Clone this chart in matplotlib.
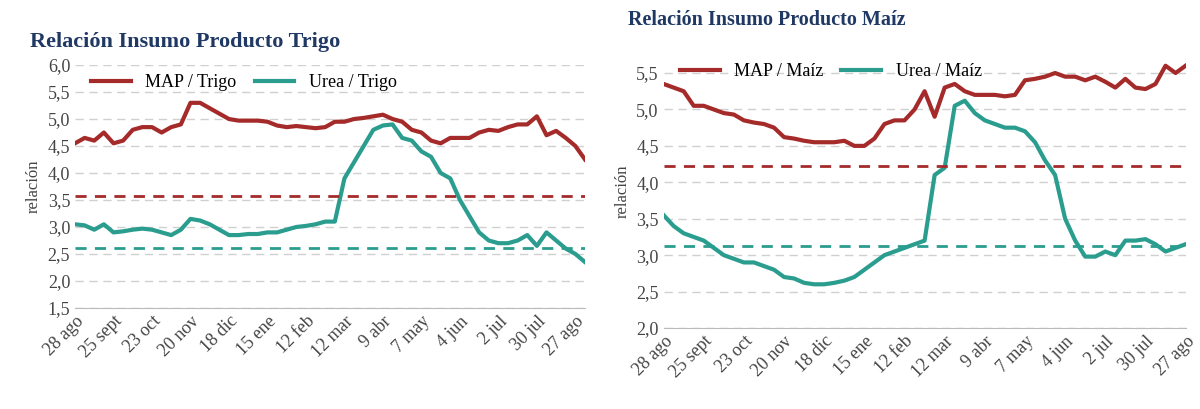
import matplotlib
matplotlib.use("Agg")
import matplotlib.pyplot as plt
from matplotlib.ticker import FuncFormatter
import numpy as np

ticks = ["28 ago","25 sept","23 oct","20 nov","18 dic","15 ene","12 feb","12 mar","9 abr","7 may","4 jun","2 jul","30 jul","27 ago"]

map_trigo = [4.55,4.65,4.6,4.75,4.55, 4.6,4.8,4.85,4.85, 4.75,4.85,4.9,5.3, 5.3,5.2,5.1,5.0,
             4.97,4.97,4.97,4.95, 4.88,4.85,4.87,4.85, 4.83,4.85,4.95,4.95, 5.0,5.02,5.05,5.08,
             5.0,4.95,4.8,4.75, 4.6,4.55,4.65,4.65, 4.65,4.75,4.8,4.78, 4.85,4.9,4.9,5.05,
             4.7,4.78,4.65,4.5,4.25]
urea_trigo = [3.05,3.03,2.95,3.05,2.9, 2.92,2.95,2.97,2.95, 2.9,2.85,2.95,3.15, 3.12,3.05,2.95,2.85,
              2.85,2.87,2.87,2.9, 2.9,2.95,3.0,3.02, 3.05,3.1,3.1,3.9, 4.2,4.5,4.8,4.88,
              4.9,4.65,4.6,4.4, 4.3,4.0,3.9,3.5, 3.2,2.9,2.75,2.7, 2.7,2.75,2.85,2.65,
              2.9,2.75,2.6,2.5,2.35]
map_maiz = [5.35,5.3,5.25,5.05,5.05, 5.0,4.95,4.93,4.85, 4.82,4.8,4.75,4.62, 4.6,4.57,4.55,4.55,
            4.55,4.57,4.5,4.5, 4.6,4.8,4.85,4.85, 5.0,5.25,4.9,5.3, 5.35,5.25,5.2,5.2,
            5.2,5.18,5.2,5.4, 5.42,5.45,5.5,5.45, 5.45,5.4,5.45,5.38, 5.3,5.42,5.3,5.28,
            5.35,5.6,5.5,5.6]
urea_maiz = [3.55,3.4,3.3,3.25,3.2, 3.1,3.0,2.95,2.9, 2.9,2.85,2.8,2.7, 2.68,2.62,2.6,2.6,
             2.62,2.65,2.7,2.8, 2.9,3.0,3.05,3.1, 3.15,3.2,4.1,4.2, 5.05,5.12,4.95,4.85,
             4.8,4.75,4.75,4.7, 4.55,4.3,4.1,3.5, 3.2,2.98,2.98,3.05, 3.0,3.2,3.2,3.22,
             3.15,3.05,3.1,3.15]
ref_trigo = (3.57, 2.62)
ref_maiz = (4.22, 3.12)

RED = "#a52a2a"; GREEN = "#2a9d8f"; NAVY = "#1f3864"
fig = plt.figure(figsize=(12, 4.09), dpi=100)
fmt = FuncFormatter(lambda v, p: f"{v:.1f}".replace(".", ","))

def panel(rect, m, u, ref, ylim, yt, title, tpos, tsize, ylabel):
    ax = fig.add_axes(rect)
    x = np.arange(len(m))
    ax.plot(x, m, color=RED, lw=3, label=ylabel[0])
    ax.plot(np.arange(len(u)), u, color=GREEN, lw=3, label=ylabel[1])
    ax.axhline(ref[0], color=RED, ls="--", lw=2, dashes=(4, 3))
    ax.axhline(ref[1], color=GREEN, ls="--", lw=2, dashes=(4, 3))
    ax.set_ylim(*ylim); ax.set_yticks(yt)
    ax.yaxis.set_major_formatter(fmt)
    ax.set_xlim(0, len(m) - 1)
    ax.set_xticks(np.arange(0, 53, 4))
    ax.set_xticklabels(ticks, rotation=45, ha="right", rotation_mode="anchor", family="Liberation Serif", fontsize=13)
    for t in ax.get_yticklabels():
        t.set_family("Liberation Serif"); t.set_fontsize(13)
    ax.grid(axis="y", color="#d0d0d0", ls=(0, (6, 4)), lw=1)
    for s in ax.spines.values(): s.set_visible(False)
    ax.spines["bottom"].set_visible(True); ax.spines["bottom"].set_color("#bbbbbb")
    ax.tick_params(length=0, colors="#444444")
    ax.set_ylabel("relación", family="Liberation Serif", fontsize=12, color="#444444")
    ax.legend(loc="upper left", bbox_to_anchor=(0.0, 1.03), ncol=2, frameon=False,
              prop={"family": "Liberation Serif", "size": 13}, handlelength=2.2, columnspacing=1.0)
    fig.text(tpos[0], tpos[1], title, family="Liberation Serif", weight="bold", fontsize=tsize, color=NAVY)
    return ax

panel([0.0625, 0.247, 0.425, 0.594], map_trigo, urea_trigo, ref_trigo, (1.5, 6.0),
      np.arange(1.5, 6.01, 0.5), "Relación Insumo Producto Trigo", (0.025, 0.885), 16, ("MAP / Trigo", "Urea / Trigo"))
panel([0.553, 0.198, 0.435, 0.668], map_maiz, urea_maiz, ref_maiz, (2.0, 5.75),
      np.arange(2.0, 5.51, 0.5), "Relación Insumo Producto Maíz", (0.523, 0.94), 14.5, ("MAP / Maíz", "Urea / Maíz"))
fig.savefig("out.png", dpi=100, facecolor="white")
